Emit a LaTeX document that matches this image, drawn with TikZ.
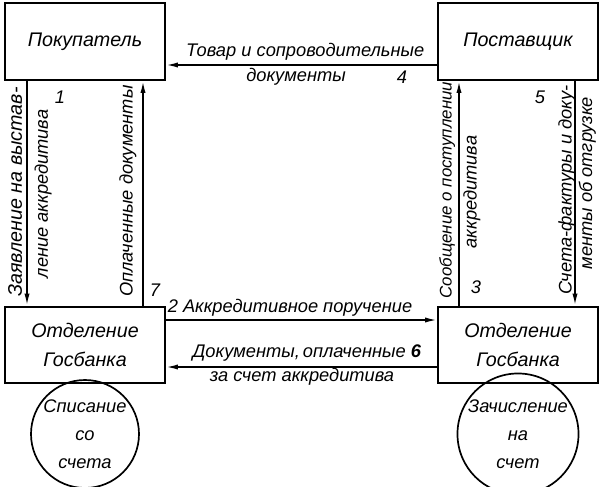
\documentclass[tikz,border=0pt]{standalone}
\usepackage{fontspec}
\setmainfont{Liberation Sans}
\usetikzlibrary{arrows.meta}

\begin{document}
\begin{tikzpicture}[
  box/.style={rectangle, draw, line width=1.4pt, minimum width=4cm, minimum height=1.92cm, align=center, font=\itshape\fontsize{14}{20}\selectfont},
  acct/.style={circle, draw, line width=1.2pt, minimum size=2.55cm, inner sep=0pt, align=center, font=\itshape\fontsize{13}{20}\selectfont},
  flow/.style={line width=1.2pt, -{Latex[length=3mm,width=1.3mm]}},
  lbl/.style={font=\itshape\fontsize{13}{15}\selectfont, inner sep=0pt}
]
\useasboundingbox (0,0) rectangle (15,-12.175);

\node at (2.125, -1.04) [box] (buyer) {Покупатель};
\node at (12.95, -1.04) [box] (supplier) {Поставщик};
\node at (2.125, -8.625) [box] (bankA) {Отделение\\Госбанка};
\node at (12.95, -8.625) [box] (bankB) {Отделение\\Госбанка};
\node at (2.125, -10.85) [acct] (debit) {Списание\\со\\счета};
\node at (12.95, -10.85) [acct] (credit) {Зачисление\\на\\счет};

\draw[flow] ([yshift=-5.85mm]supplier.west) -- ([yshift=-5.85mm]buyer.east);
\draw[flow] ([xshift=-14.5mm]buyer.south) -- ([xshift=-14.5mm]bankA.north);
\draw[flow] ([xshift=14.5mm]bankA.north) -- ([xshift=14.5mm]buyer.south);
\draw[flow] ([xshift=-14.75mm]bankB.north) -- ([xshift=-14.75mm]supplier.south);
\draw[flow] ([xshift=14.25mm]supplier.south) -- ([xshift=14.25mm]bankB.north);
\draw[flow] ([yshift=6.25mm]bankA.east) -- ([yshift=6.25mm]bankB.west);
\draw[flow] ([yshift=-5.5mm]bankB.west) -- ([yshift=-5.5mm]bankA.east);

\node at (7.63, -1.3) [lbl] (goods1) {Товар и сопроводительные};
\node at (7.4, -1.93) [lbl] (goods2) {документы};
\node at (10.05, -1.93) [lbl] (n4) {4};
\node at (0.375, -4.8) [lbl, rotate=90, font=\itshape\fontsize{14}{15}\selectfont] (apply1) {Заявление на выстав-};
\node at (1.08, -4.85) [lbl, rotate=90] (apply2) {ление аккредитива};
\node at (1.5, -2.42) [lbl] (n1) {1};
\node at (3.2, -4.78) [lbl, rotate=90] (paid) {Оплаченные документы};
\node at (3.875, -7.25) [lbl] (n7) {7};
\node at (11.18, -4.75) [lbl, rotate=90, font=\itshape\fontsize{12}{15}\selectfont] (notice1) {Сообщение о поступлении};
\node at (11.8, -4.8) [lbl, rotate=90] (notice2) {аккредитива};
\node at (11.9, -7.18) [lbl] (n3) {3};
\node at (13.5, -2.42) [lbl] (n5) {5};
\node at (14.17, -4.75) [lbl, rotate=90] (invoice1) {Счета-фактуры и доку-};
\node at (14.68, -4.58) [lbl, rotate=90] (invoice2) {менты об отгрузке};
\node at (7.25, -7.7) [lbl] (order) {2 Аккредитивное поручение};
\node at (7.67, -8.83) [lbl] (docs1) {Документы,\,оплаченные \textbf{6}};
\node at (7.55, -9.43) [lbl] (docs2) {за счет аккредитива};
\end{tikzpicture}
\end{document}
